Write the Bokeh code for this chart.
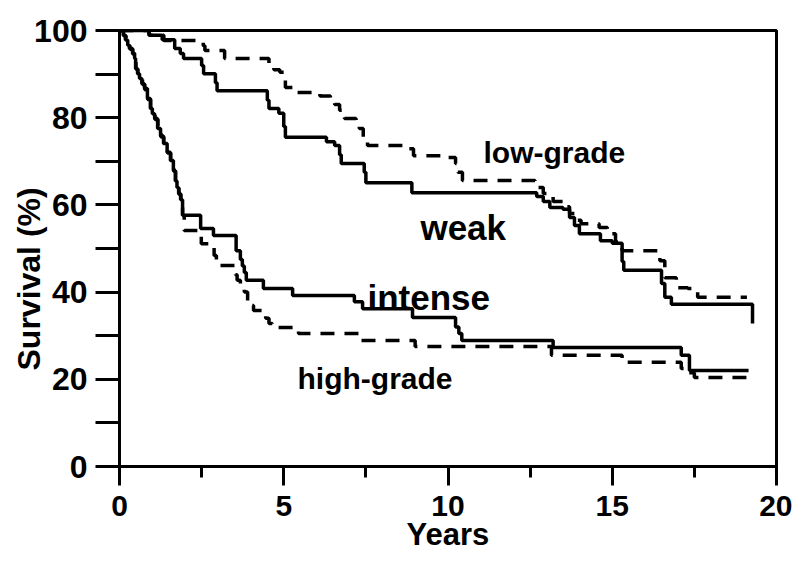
from bokeh.plotting import figure
from bokeh.models import Range1d, FixedTicker, Title, LinearAxis
from bokeh.core.properties import value
from bokeh.embed import file_html
from bokeh.resources import INLINE

# ---- data ----
weak_t = [0, 0.9, 1.3, 1.68, 1.85, 1.95, 2.5, 2.56, 2.92, 2.97, 4.5, 4.55, 4.85, 5.0, 5.05,
          6.3, 6.55, 6.7, 6.75, 7.45, 7.5, 8.9, 12.7, 12.9, 13.1, 13.5, 13.7, 13.85, 14.0,
          14.64, 15.0, 15.3, 15.35, 16.5, 16.6, 16.8, 19.27]
weak_s = [100, 98.9, 97.9, 95.9, 94.7, 93.6, 92.0, 90.1, 88.0, 86.2, 84.0, 82.1, 81.0, 78.0, 75.5,
          74.5, 73.6, 71.5, 69.5, 67.5, 65.1, 62.8, 61.9, 60.8, 59.4, 59.0, 57.1, 55.3, 53.4,
          51.8, 51.2, 47.0, 45.0, 42.0, 38.8, 37.2, 32.8]

low_t = [0, 0.9, 1.35, 2.55, 2.6, 3.2, 4.55, 4.7, 4.88, 5.05, 5.3, 6.1, 6.42, 6.55, 6.7, 6.85,
         7.2, 7.3, 7.42, 7.55, 8.7, 8.95, 10.0, 10.23, 10.3, 10.44, 12.65, 12.9, 13.2, 13.5,
         13.7, 13.9, 14.05, 14.6, 14.85, 15.1, 15.3, 16.45, 16.6, 16.95, 17.3, 17.6, 19.1]
low_s = [100, 98.9, 97.7, 96.5, 95.4, 93.6, 92.5, 91.0, 90.4, 86.9, 85.8, 85.0, 84.6, 83.0, 81.7, 79.8,
         79.4, 77.5, 75.5, 73.6, 72.9, 71.3, 70.9, 69.5, 67.5, 65.6, 64.0, 62.6, 60.8, 59.6,
         58.0, 56.5, 55.7, 54.8, 53.4, 51.5, 49.5, 47.2, 43.3, 41.0, 40.8, 38.8, 38.8]

intense_t = [0, 0.12, 0.18, 0.25, 0.3, 0.4, 0.46, 0.49, 0.55, 0.61, 0.68, 0.76, 0.85, 0.94, 1.0,
             1.07, 1.16, 1.25, 1.34, 1.45, 1.55, 1.64, 1.7, 1.75, 1.8, 1.86, 1.92, 2.47, 2.86,
             3.55, 3.68, 3.74, 3.8, 3.86, 4.38, 5.27, 7.15, 7.4, 8.92, 10.23, 10.33, 10.42,
             13.2, 17.1, 17.35, 19.15]
intense_s = [100, 98.9, 97.8, 96.6, 95.9, 94.8, 93.6, 91.3, 90.1, 89.0, 87.8, 86.7, 84.4, 82.1, 80.9,
             79.8, 77.5, 75.8, 74.1, 72.1, 70.2, 67.9, 65.5, 64.0, 62.6, 61.2, 57.6, 54.6, 53.0,
             49.5, 47.5, 46.0, 44.5, 42.7, 40.8, 39.2, 37.8, 36.2, 34.2, 32.0, 30.5, 28.9,
             27.3, 25.5, 22.0, 22.0]

high_t = [0, 0.12, 0.2, 0.26, 0.32, 0.4, 0.46, 0.5, 0.56, 0.62, 0.7, 0.77, 0.86, 0.95, 1.02,
          1.08, 1.17, 1.26, 1.35, 1.46, 1.56, 1.65, 1.71, 1.76, 1.81, 1.87, 1.92, 1.97, 2.49,
          2.88, 2.95, 3.53, 3.58, 3.68, 3.8, 3.9, 4.0, 4.08, 4.45, 4.55, 4.65, 5.3, 5.45,
          7.3, 9.0, 13.15, 15.3, 17.1, 17.3, 17.5, 19.2]
high_s = [100, 98.8, 97.7, 96.5, 95.7, 94.6, 93.4, 91.1, 90.0, 88.8, 87.6, 86.4, 84.2, 81.9, 80.7,
          79.6, 77.3, 75.6, 73.9, 71.9, 70.0, 67.7, 65.3, 63.8, 62.4, 61.0, 57.6, 54.1, 51.1,
          48.4, 46.1, 44.0, 42.7, 41.3, 40.0, 38.0, 36.9, 35.8, 34.0, 32.8, 31.9, 31.2, 30.5,
          28.9, 27.5, 25.5, 23.9, 22.5, 21.5, 20.4, 20.4]

x_ticks = [0, 5, 10, 15, 20]
y_ticks = [0, 20, 40, 60, 80, 100]
x_title = "Years"
y_title = "Survival (%)"

FONT = "Liberation Sans"

p = figure(width=792, height=561, output_backend="svg", toolbar_location=None,
           x_range=Range1d(0, 20), y_range=Range1d(0, 100),
           min_border_left=119, min_border_right=16, min_border_top=30, min_border_bottom=95)
p.grid.visible = False
p.outline_line_color = "black"
p.outline_line_width = 3
p.background_fill_color = "white"
p.border_fill_color = "white"

# axes
xa = p.xaxis[0]
xa.ticker = FixedTicker(ticks=x_ticks, minor_ticks=[2.5, 7.5, 12.5, 17.5])
xa.axis_line_width = 3
xa.major_tick_line_width = 3
xa.minor_tick_line_width = 3
xa.major_tick_out = 19
xa.major_tick_in = 0
xa.minor_tick_out = 11
xa.minor_tick_in = 0
xa.major_label_text_font = FONT
xa.major_label_text_font_style = "bold"
xa.major_label_text_font_size = "30px"
xa.major_label_text_color = "black"
xa.major_label_standoff = 10

# second, tick-less axis below that only carries the x title
xt = LinearAxis(ticker=FixedTicker(ticks=[]), axis_line_color=None,
                major_tick_line_color=None, minor_tick_line_color=None,
                major_label_text_font_size="0px", axis_label=x_title,
                axis_label_text_font=FONT, axis_label_text_font_style="bold",
                axis_label_text_font_size="31px", axis_label_text_color="black",
                axis_label_standoff=-2)
p.add_layout(xt, "below")

ya = p.yaxis[0]
ya.ticker = FixedTicker(ticks=y_ticks, minor_ticks=[10, 30, 50, 70, 90])
ya.axis_line_width = 3
ya.major_tick_line_width = 3
ya.minor_tick_line_width = 3
ya.major_tick_out = 24
ya.major_tick_in = 0
ya.minor_tick_out = 24
ya.minor_tick_in = 0
ya.major_label_text_font = FONT
ya.major_label_text_font_style = "bold"
ya.major_label_text_font_size = "32px"
ya.major_label_text_color = "black"
ya.major_label_standoff = 8

p.add_layout(Title(text=y_title, align="left", text_font=FONT, text_font_style="bold",
                   text_font_size="32px", text_color="black", standoff=-30, offset=96), "left")

# curves
p.step(weak_t, weak_s, mode="after", line_color="black", line_width=3.5)
p.step(low_t, low_s, mode="after", line_color="black", line_width=3.5, line_dash="14 10")
p.step(intense_t, intense_s, mode="after", line_color="black", line_width=3.5)
p.step(high_t, high_s, mode="after", line_color="black", line_width=3.5, line_dash="14 10")

# curve labels
p.text(x=[11.08], y=[72.0], text=["low-grade"], text_font=value(FONT), text_font_size="30px",
       text_font_style="bold", text_align="left", text_baseline="alphabetic", text_color="black")
p.text(x=[9.16], y=[54.8], text=["weak"], text_font=value(FONT), text_font_size="35px",
       text_font_style="bold", text_align="left", text_baseline="alphabetic", text_color="black")
p.text(x=[7.55], y=[38.8], text=["intense"], text_font=value(FONT), text_font_size="35px",
       text_font_style="bold", text_align="left", text_baseline="alphabetic", text_color="black")
p.text(x=[5.42], y=[20.2], text=["high-grade"], text_font=value(FONT), text_font_size="30px",
       text_font_style="bold", text_align="left", text_baseline="alphabetic", text_color="black")

open("out.html", "w").write(file_html(p, INLINE))
